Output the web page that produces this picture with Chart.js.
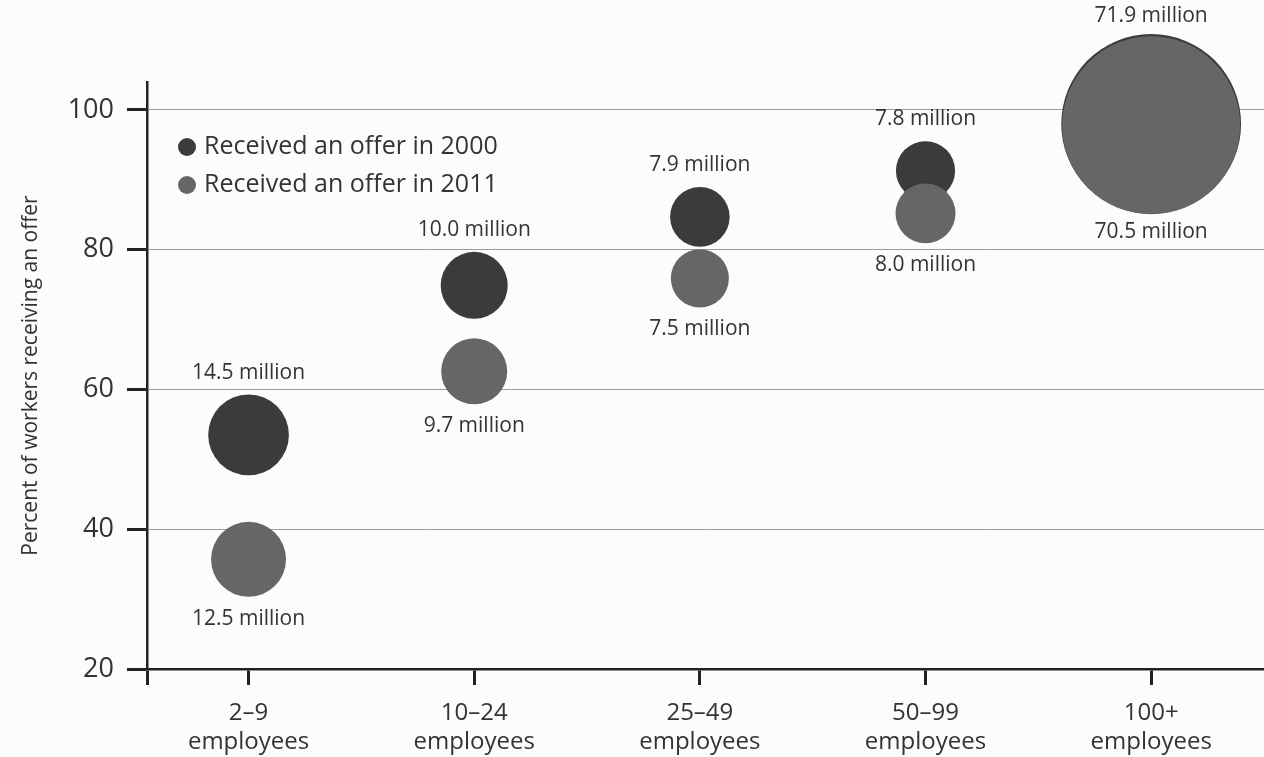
<!DOCTYPE html>
<html>
<head>
<meta charset="utf-8">
<title>Workers receiving an offer by firm size</title>
<script src="https://cdn.jsdelivr.net/npm/chart.js@4.4.1/dist/chart.umd.min.js"></script>
<style>
  html, body { margin: 0; background: #fcfcfb; }
  #wrap { width: 1264px; height: 757px; }
</style>
</head>
<body>
<div id="wrap"><canvas id="chart"></canvas></div>
<script>
// firm size groups along the x axis
const groups = ["2–9", "10–24", "25–49", "50–99", "100+"];
const groupUnit = "employees";

// percent of workers receiving an offer
const pct2000 = [53.5, 74.9, 84.7, 91.3, 98.0];
const pct2011 = [35.7, 62.6, 75.9, 85.2, 97.8];

// workers covered, in millions (sets the bubble size)
const workers2000 = [14.5, 10.0, 7.9, 7.8, 71.9];
const workers2011 = [12.5, 9.7, 7.5, 8.0, 70.5];

const yTicks = [20, 40, 60, 80, 100];

const FONT = '"Open Sans", "DejaVu Sans", sans-serif';
const TEXT = "#333";
const DARK = "#3b3b3b";
const GRAY = "#666666";

// bubble area proportional to number of workers
const radius = m => 10.6 * Math.sqrt(m);

const toPoints = (pct, workers) => pct.map((p, i) => ({ x: i, y: p, r: radius(workers[i]) }));

const labelsAndLegend = {
  id: "labelsAndLegend",
  afterDatasetsDraw(chart) {
    const ctx = chart.ctx;
    ctx.save();
    ctx.fillStyle = TEXT;
    ctx.textAlign = "center";
    ctx.textBaseline = "middle";
    ctx.font = "21px " + FONT;
    chart.data.datasets.forEach((ds, i) => {
      chart.getDatasetMeta(i).data.forEach((pt, j) => {
        const r = pt.options.radius;
        const gap = r > 60 ? 18 : 22;
        const y = i === 0 ? pt.y - r - gap : pt.y + r + gap;
        ctx.fillText(ds.millions[j].toFixed(1) + " million", pt.x, y);
      });
    });

    // legend in the upper left of the plot
    const left = chart.chartArea.left + 40;
    const top = chart.chartArea.top + 65;
    ctx.textAlign = "left";
    ctx.font = "25px " + FONT;
    chart.data.datasets.forEach((ds, i) => {
      const y = top + i * 38;
      ctx.beginPath();
      ctx.arc(left, y, 9, 0, Math.PI * 2);
      ctx.fillStyle = ds.backgroundColor;
      ctx.fill();
      ctx.fillStyle = TEXT;
      ctx.fillText(ds.label, left + 17, y);
    });
    ctx.restore();
  }
};

new Chart(document.getElementById("chart"), {
  type: "bubble",
  data: {
    datasets: [
      {
        label: "Received an offer in 2000",
        data: toPoints(pct2000, workers2000),
        millions: workers2000,
        backgroundColor: DARK,
        borderWidth: 0,
        order: 1,
        clip: false
      },
      {
        label: "Received an offer in 2011",
        data: toPoints(pct2011, workers2011),
        millions: workers2011,
        backgroundColor: GRAY,
        borderWidth: 0,
        order: 0,
        clip: false
      }
    ]
  },
  options: {
    responsive: true,
    maintainAspectRatio: false,
    animation: false,
    events: [],
    layout: { autoPadding: false, padding: { top: 82, left: 0, right: 0, bottom: 0 } },
    plugins: {
      legend: { display: false },
      tooltip: { enabled: false }
    },
    scales: {
      x: {
        type: "linear",
        min: -0.45,
        max: 4.5,
        afterBuildTicks: s => { s.ticks = [-0.45, 0, 1, 2, 3, 4].map(v => ({ value: v })); },
        afterFit: s => { s.height = 88; },
        ticks: {
          autoSkip: false,
          maxRotation: 0,
          padding: 14,
          color: TEXT,
          font: { family: FONT, size: 24, lineHeight: 1.2 },
          callback: v => Number.isInteger(v) ? [groups[v], groupUnit] : ""
        },
        grid: {
          drawOnChartArea: false,
          drawTicks: true,
          tickLength: 16,
          tickWidth: 3,
          tickColor: "#222"
        },
        border: { color: "#222", width: 2.5 }
      },
      y: {
        min: 20,
        max: 104,
        afterBuildTicks: s => { s.ticks = yTicks.map(v => ({ value: v })); },
        afterFit: s => { s.width = 147; },
        ticks: {
          padding: 13,
          color: TEXT,
          font: { family: FONT, size: 27 }
        },
        grid: {
          color: "#9c9c9c",
          lineWidth: 1,
          tickLength: 20,
          tickWidth: 3,
          tickColor: "#222"
        },
        border: { color: "#222", width: 2.5 },
        title: {
          display: true,
          text: "Percent of workers receiving an offer",
          color: TEXT,
          font: { family: FONT, size: 21 },
          padding: { top: 18, bottom: 0 }
        }
      }
    }
  },
  plugins: [labelsAndLegend]
});
</script>
</body>
</html>
